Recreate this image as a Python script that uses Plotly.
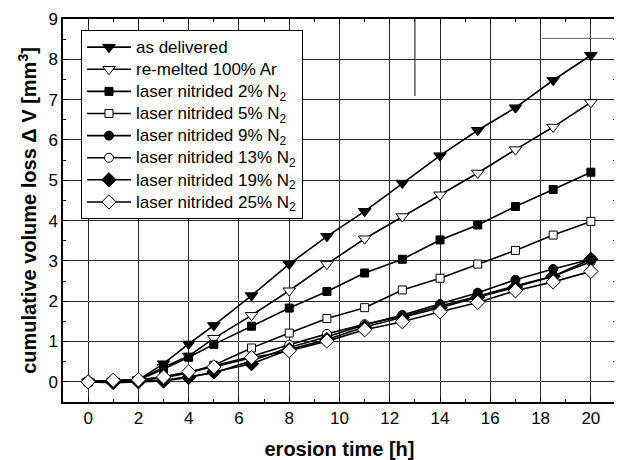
import plotly.graph_objects as go

# ---- data ----
erosion_time = [0, 1, 2, 3, 4, 5, 6.5, 8, 9.5, 11, 12.5, 14, 15.5, 17, 18.5, 20]

as_delivered = [0, 0.02, 0.05, 0.45, 0.94, 1.40, 2.14, 2.92, 3.61, 4.23, 4.93, 5.61, 6.24, 6.80, 7.48, 8.10]
remelted_ar = [0, 0.02, 0.05, 0.36, 0.64, 1.08, 1.65, 2.26, 2.92, 3.55, 4.10, 4.64, 5.18, 5.76, 6.32, 6.93]
nitrided_2 = [0, 0.02, 0.04, 0.32, 0.61, 0.93, 1.38, 1.83, 2.24, 2.70, 3.04, 3.52, 3.89, 4.35, 4.77, 5.20]
nitrided_5 = [0, 0.02, 0.04, 0.13, 0.23, 0.41, 0.84, 1.21, 1.57, 1.84, 2.28, 2.57, 2.92, 3.26, 3.64, 3.98]
nitrided_9 = [0, 0.00, 0.02, 0.04, 0.13, 0.22, 0.52, 0.85, 1.12, 1.41, 1.66, 1.93, 2.21, 2.53, 2.80, 3.04]
nitrided_13 = [0, 0.02, 0.04, 0.10, 0.22, 0.40, 0.63, 0.92, 1.19, 1.43, 1.63, 1.88, 2.12, 2.38, 2.62, 2.98]
nitrided_19 = [0, -0.02, 0.00, 0.02, 0.11, 0.25, 0.45, 0.80, 1.05, 1.36, 1.60, 1.84, 2.10, 2.35, 2.62, 3.04]
nitrided_25 = [0, 0.04, 0.05, 0.12, 0.25, 0.37, 0.60, 0.77, 1.01, 1.29, 1.49, 1.74, 1.97, 2.26, 2.48, 2.74]

series_names = [
    "as delivered",
    "re-melted 100% Ar",
    "laser nitrided 2% N<sub>2</sub>",
    "laser nitrided 5% N<sub>2</sub>",
    "laser nitrided 9% N<sub>2</sub>",
    "laser nitrided 13% N<sub>2</sub>",
    "laser nitrided 19% N<sub>2</sub>",
    "laser nitrided 25% N<sub>2</sub>",
]
series_values = [as_delivered, remelted_ar, nitrided_2, nitrided_5,
                 nitrided_9, nitrided_13, nitrided_19, nitrided_25]
series_symbols = ["triangle-down", "triangle-down", "square", "square",
                  "circle", "circle", "diamond", "diamond"]
series_filled = [True, False, True, False, True, False, True, False]
series_sizes = [11, 11, 8, 8, 9, 9, 11, 11]

x_ticks = [0, 2, 4, 6, 8, 10, 12, 14, 16, 18, 20]
y_ticks = [0, 1, 2, 3, 4, 5, 6, 7, 8, 9]

# scan artefact lines visible in the original figure
artefact_v_x = [13, 13]
artefact_v_y = [7.09, 9]
artefact_h_x = [18.06, 21]
artefact_h_y = [8.52, 8.52]

FONT = "Arial, 'Liberation Sans', Helvetica, sans-serif"

fig = go.Figure()

for name, vals, sym, filled, sz in zip(series_names, series_values, series_symbols,
                                       series_filled, series_sizes):
    fig.add_trace(go.Scatter(
        x=erosion_time, y=vals,
        name='<span style="font-size:17px">' + name + '</span>',
        mode="lines+markers",
        line=dict(color="black", width=1.6),
        marker=dict(symbol=sym, size=sz,
                    color="black" if filled else "white",
                    line=dict(color="black", width=1)),
    ))

fig.add_shape(type="line", x0=artefact_v_x[0], x1=artefact_v_x[1],
              y0=artefact_v_y[0], y1=artefact_v_y[1],
              line=dict(color="#333", width=1.2), layer="below")
fig.add_shape(type="line", x0=artefact_h_x[0], x1=artefact_h_x[1],
              y0=artefact_h_y[0], y1=artefact_h_y[1],
              line=dict(color="#666", width=1), layer="below")

axis_common = dict(
    showline=True, linecolor="black", linewidth=1.5, mirror="allticks",
    ticks="inside", ticklen=5, tickwidth=1.2, tickcolor="black",
    showgrid=True, gridcolor="#2a2a2a", gridwidth=1.2,
    zeroline=False, automargin=False,
    tickfont=dict(family=FONT, size=17, color="black"),
)

fig.update_xaxes(
    range=[-1, 21], tickvals=x_ticks,
    minor=dict(dtick=1, ticks="inside", ticklen=3, tickcolor="black", showgrid=False),
    title=dict(text="<b>erosion time [h]</b>", font=dict(family=FONT, size=20, color="black"),
               standoff=15),
    **axis_common,
)
fig.update_yaxes(
    range=[-0.5, 9], tickvals=y_ticks,
    minor=dict(dtick=0.5, ticks="inside", ticklen=3, tickcolor="black", showgrid=False),
    title=dict(text="<b>cumulative volume loss \u0394 V [mm<sup>3</sup>]</b>",
               font=dict(family=FONT, size=20, color="black"), standoff=6),
    **axis_common,
)

# page body has an 8px default margin, so the figure is 8px smaller
fig.update_layout(
    width=614, height=452,
    margin=dict(l=55, r=6, t=11, b=58, autoexpand=False),
    paper_bgcolor="white", plot_bgcolor="white",
    font=dict(family=FONT, color="black"),
    legend=dict(
        x=0.0325, y=0.971, xanchor="left", yanchor="top",
        bgcolor="white", bordercolor="black", borderwidth=1,
        font=dict(family=FONT, size=14.7, color="black"),
        itemwidth=44, tracegroupgap=0,
    ),
    showlegend=True,
)

fig.write_html("out.html")
